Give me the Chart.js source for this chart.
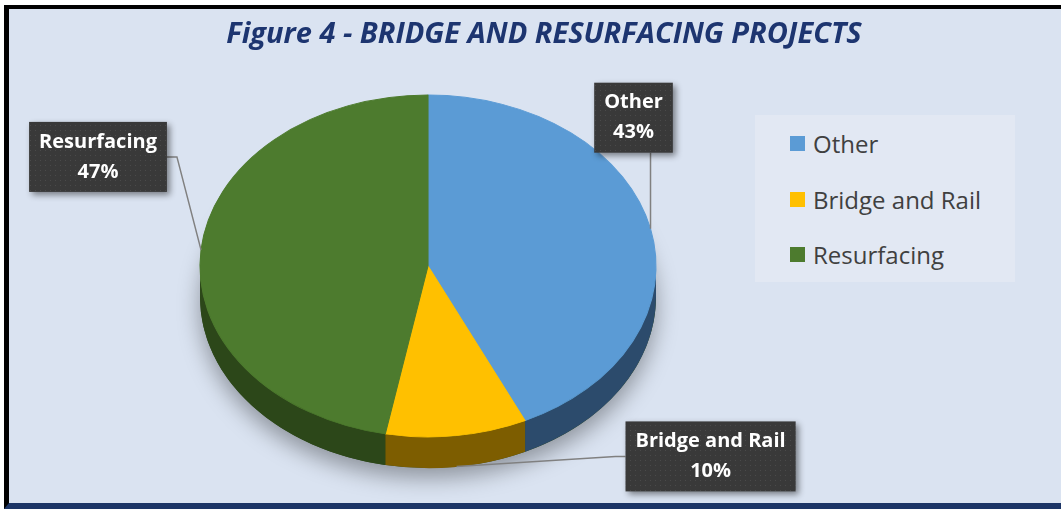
<!DOCTYPE html>
<html>
<head>
<meta charset="utf-8">
<script src="https://cdn.jsdelivr.net/npm/chart.js@4.4.1/dist/chart.umd.min.js"></script>
<style>
  html, body { margin: 0; padding: 0; background: #ffffff; }
  #frame {
    position: absolute; left: 4px; top: 5px;
    width: 1052px; height: 494px;
    background: #dae3f1;
    border-left: 5px solid #000;
    border-top: 4px solid #000;
    border-bottom: 6px solid #1c3566;
  }
  #myChart { position: absolute; left: 0; top: 0; }
  #title {
    position: absolute; left: 9px; top: 5px; width: 100%;
    text-align: center; line-height: 36px;
    font-family: "Open Sans", sans-serif; font-size: 29px;
    font-weight: bold; font-style: italic; color: #1d3570;
  }
  #legend {
    position: absolute; left: 746px; top: 106px;
    width: 260px; height: 167px;
    background: #e2e8f3;
    box-sizing: border-box; padding: 1px 0 0 35px;
    font-family: "Open Sans", sans-serif; font-size: 24px; color: #404040;
  }
  .item { height: 55.5px; display: flex; align-items: center; }
  .sw { width: 15px; height: 15px; margin-right: 8px; }
</style>
</head>
<body>
<div id="frame">
  <canvas id="myChart" width="1052" height="494"></canvas>
  <div id="title">Figure 4 - BRIDGE AND RESURFACING PROJECTS</div>
  <div id="legend"></div>
</div>
<script>
// data
const categories = ['Other', 'Bridge and Rail', 'Resurfacing']
const shares = [43, 10, 47]
const faceColors = ['#5b9bd5', '#ffc000', '#4d7b2e']
const sideColors = ['#2c4b6c', '#7d5d00', '#2c4719']

// look of the fake 3d pie
const PIE_RX = 228
const TILT = 0.75
const DEPTH = 31
// label box centre, relative to the point on the rim
const labelOffsets = [[-17, -111], [254, -10], [-103, -93]]

function dotPattern(ctx) {
  const c = document.createElement('canvas')
  c.width = 5; c.height = 5
  const p = c.getContext('2d')
  p.fillStyle = '#393939'
  p.fillRect(0, 0, 5, 5)
  p.fillStyle = '#4a4a4a'
  p.fillRect(1, 1, 1, 1)
  return ctx.createPattern(c, 'repeat')
}

const pie3d = {
  id: 'pie3d',
  beforeDatasetsDraw(chart) {
    const ctx = chart.ctx
    const arcs = chart.getDatasetMeta(0).data
    const cx = arcs[0].x, cy = arcs[0].y, R = arcs[0].outerRadius
    const k = PIE_RX / R
    const rx = R * k, ry = R * k * TILT

    // soft shadow under the pie
    ctx.save()
    ctx.shadowColor = 'rgba(0,0,0,0.35)'
    ctx.shadowBlur = 22
    ctx.shadowOffsetY = 10
    ctx.beginPath()
    ctx.ellipse(cx, cy + DEPTH, rx, ry, 0, 0, Math.PI * 2)
    ctx.fillStyle = sideColors[2]
    ctx.fill()
    ctx.restore()

    // front sides
    arcs.forEach((arc, i) => {
      const s = Math.max(arc.startAngle, 0)
      const e = Math.min(arc.endAngle, Math.PI)
      if (e <= s) return
      ctx.beginPath()
      ctx.ellipse(cx, cy, rx, ry, 0, s, e)
      ctx.lineTo(cx + rx * Math.cos(e), cy + ry * Math.sin(e) + DEPTH)
      ctx.ellipse(cx, cy + DEPTH, rx, ry, 0, e, s, true)
      ctx.closePath()
      ctx.fillStyle = sideColors[i]
      ctx.fill()
    })

    // squash the top face
    ctx.save()
    ctx.translate(cx, cy)
    ctx.scale(k, k * TILT)
    ctx.translate(-cx, -cy)
  },
  afterDatasetsDraw(chart) {
    const ctx = chart.ctx
    ctx.restore()

    const arcs = chart.getDatasetMeta(0).data
    const cx = arcs[0].x, cy = arcs[0].y, R = arcs[0].outerRadius
    const k = PIE_RX / R
    const rx = R * k, ry = R * k * TILT
    const fill = dotPattern(ctx)

    ctx.font = 'bold 20px "Open Sans", sans-serif'
    arcs.forEach((arc, i) => {
      const mid = (arc.startAngle + arc.endAngle) / 2
      const ax = cx + rx * Math.cos(mid)
      const ay = cy + ry * Math.sin(mid) + DEPTH * Math.max(0, Math.sin(mid))
      const lines = [categories[i], shares[i] + '%']
      const w = Math.max(...lines.map(t => ctx.measureText(t).width)) + 20
      const h = 70
      const bx = ax + labelOffsets[i][0] - w / 2
      const by = ay + labelOffsets[i][1] - h / 2

      // leader line
      ctx.beginPath()
      ctx.strokeStyle = '#808080'
      ctx.lineWidth = 1.5
      if (ax > bx && ax < bx + w) {
        const ey = ay > by + h ? by + h : by
        ctx.moveTo(ax, ey)
        ctx.lineTo(ax, ay)
      } else {
        const side = ax < bx ? bx : bx + w
        const dir = ax < bx ? -1 : 1
        ctx.moveTo(side, by + h / 2)
        ctx.lineTo(side + dir * 10, by + h / 2)
        ctx.lineTo(ax, ay)
      }
      ctx.stroke()

      // box
      ctx.save()
      ctx.shadowColor = 'rgba(0,0,0,0.45)'
      ctx.shadowBlur = 6
      ctx.shadowOffsetX = 3
      ctx.shadowOffsetY = 3
      ctx.fillStyle = fill
      ctx.fillRect(bx, by, w, h)
      ctx.restore()

      ctx.fillStyle = '#ffffff'
      ctx.textAlign = 'center'
      ctx.textBaseline = 'middle'
      ctx.fillText(lines[0], bx + w / 2, by + h / 2 - 15)
      ctx.fillText(lines[1], bx + w / 2, by + h / 2 + 15)
    })
  }
}

const ctx = document.getElementById('myChart')
const chart = new Chart(ctx, {
  type: 'pie',
  data: {
    labels: categories,
    datasets: [{
      data: shares,
      backgroundColor: faceColors,
      borderColor: faceColors,
      borderWidth: 1
    }]
  },
  options: {
    responsive: false,
    animation: false,
    events: [],
    layout: { padding: { left: 20, right: 234, top: 46, bottom: 26 } },
    plugins: {
      legend: { display: false },
      tooltip: { enabled: false },
      title: { display: false }
    }
  },
  plugins: [pie3d]
})

// legend built from the chart's own labels
const legend = document.getElementById('legend')
chart.data.labels.forEach((name, i) => {
  const row = document.createElement('div')
  row.className = 'item'
  const sw = document.createElement('span')
  sw.className = 'sw'
  sw.style.background = chart.data.datasets[0].backgroundColor[i]
  const tx = document.createElement('span')
  tx.innerHTML = name
  row.appendChild(sw)
  row.appendChild(tx)
  legend.appendChild(row)
})
</script>
</body>
</html>
